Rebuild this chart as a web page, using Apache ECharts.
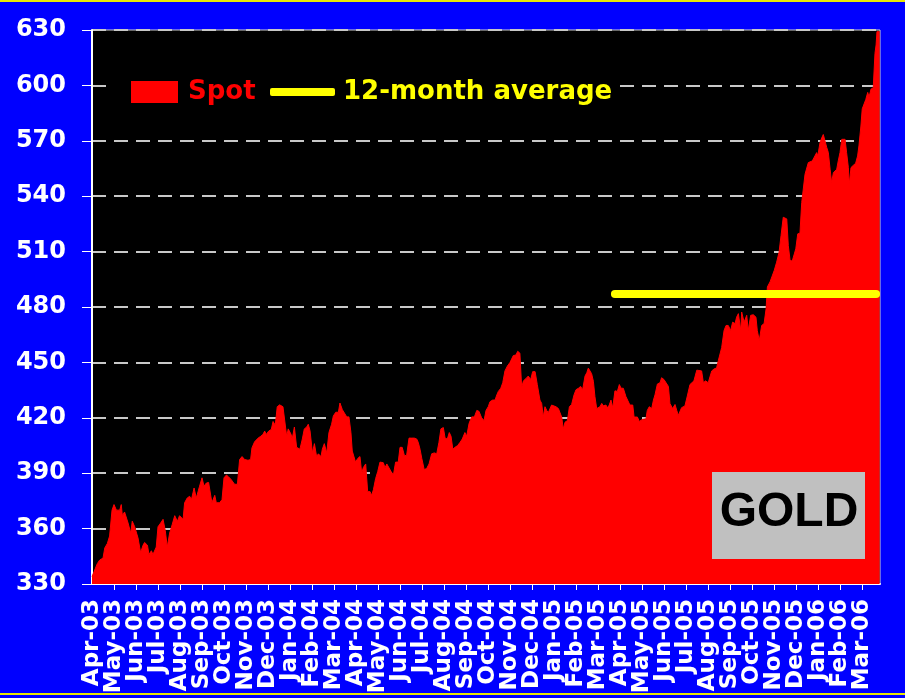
<!DOCTYPE html>
<html>
<head>
<meta charset="utf-8">
<script src="https://cdn.jsdelivr.net/npm/echarts@6/dist/echarts.min.js"></script>
<style>
  html, body { margin: 0; padding: 0; background: #0000ff; }
  #chart { width: 905px; height: 698px; }
</style>
</head>
<body>
<div id="chart"></div>
<script>
// Month tick labels (one tick per month, starting at Apr-03)
const months = ['Apr-03','May-03','Jun-03','Jul-03','Aug-03','Sep-03','Oct-03','Nov-03','Dec-03',
  'Jan-04','Feb-04','Mar-04','Apr-04','May-04','Jun-04','Jul-04','Aug-04','Sep-04','Oct-04','Nov-04','Dec-04',
  'Jan-05','Feb-05','Mar-05','Apr-05','May-05','Jun-05','Jul-05','Aug-05','Sep-05','Oct-05','Nov-05','Dec-05',
  'Jan-06','Feb-06','Mar-06'];

// Position of each spot observation, in months since 1 Apr 2003
const spotT = [0,0.05,0.24,0.35,0.5,0.58,0.7,0.8,0.91,1.0,1.11,1.26,1.33,1.38,1.48,1.64,1.76,1.83,1.94,2.09,
  2.21,2.32,2.39,2.52,2.59,2.7,2.77,2.92,3.0,3.12,3.23,3.33,3.42,3.53,3.64,3.76,3.88,3.98,4.14,4.21,
  4.33,4.44,4.52,4.64,4.74,4.89,5.0,5.09,5.2,5.3,5.39,5.45,5.58,5.65,5.8,5.91,6.0,6.11,6.21,6.33,
  6.48,6.61,6.71,6.82,6.94,7.09,7.21,7.27,7.39,7.55,7.67,7.77,7.85,7.92,8.03,8.15,8.23,8.33,8.42,8.53,
  8.68,8.77,8.85,8.92,9.05,9.1,9.2,9.3,9.45,9.56,9.65,9.76,9.83,9.91,10.02,10.11,10.21,10.29,10.41,10.47,
  10.56,10.67,10.77,10.89,10.97,11.08,11.2,11.27,11.38,11.47,11.58,11.68,11.77,11.83,11.92,11.98,12.08,12.18,12.26,12.33,
  12.44,12.53,12.64,12.71,12.79,12.89,12.99,13.09,13.17,13.24,13.32,13.4,13.47,13.59,13.7,13.8,13.92,14.0,14.1,14.2,
  14.3,14.41,14.53,14.65,14.76,14.83,14.91,14.99,15.1,15.21,15.32,15.44,15.56,15.67,15.77,15.86,15.97,16.05,16.15,16.24,
  16.32,16.4,16.5,16.62,16.73,16.83,16.95,17.03,17.14,17.26,17.38,17.49,17.59,17.71,17.82,17.91,18.01,18.09,18.21,18.32,
  18.4,18.47,18.58,18.67,18.77,18.88,19.0,19.08,19.15,19.27,19.35,19.45,19.53,19.61,19.73,19.83,19.94,20.03,20.14,20.24,
  20.36,20.44,20.51,20.59,20.67,20.74,20.82,20.89,20.97,21.09,21.2,21.27,21.35,21.42,21.5,21.61,21.7,21.8,21.91,22.0,
  22.11,22.21,22.3,22.41,22.49,22.56,22.64,22.71,22.79,22.86,22.94,23.01,23.09,23.17,23.24,23.36,23.44,23.51,23.59,23.67,
  23.77,23.88,23.97,24.05,24.15,24.27,24.33,24.45,24.58,24.64,24.73,24.79,24.88,24.99,25.06,25.18,25.24,25.33,25.44,25.52,
  25.59,25.7,25.82,25.89,26.0,26.09,26.2,26.27,26.39,26.5,26.58,26.65,26.73,26.8,26.95,27.06,27.18,27.26,27.36,27.49,
  27.56,27.71,27.79,27.89,28.01,28.09,28.17,28.27,28.39,28.47,28.62,28.73,28.82,28.92,29.03,29.12,29.23,29.3,29.38,29.49,
  29.53,29.64,29.76,29.83,29.94,30.06,30.18,30.24,30.33,30.44,30.55,30.64,30.7,30.82,30.89,31.01,31.12,31.23,31.32,31.42,
  31.5,31.58,31.65,31.73,31.83,31.92,31.99,32.08,32.18,32.26,32.33,32.41,32.49,32.56,32.64,32.74,32.83,32.94,32.99,33.09,
  33.17,33.24,33.32,33.4,33.47,33.55,33.62,33.7,33.77,33.85,33.92,34.0,34.08,34.15,34.23,34.3,34.38,34.42,34.5,34.61,
  34.71,34.8,34.86,34.95,35.01,35.1,35.17,35.26,35.32,35.41,35.51,35.59,35.64,35.68,35.8];

// Gold spot price (US$/oz)
const spot = [334,334,341,343,344,349.5,352,356,370,373,370,370,373,367,369,363,357.6,364,361,355,
  347,351,352.5,351,346,348,346,350,361,363,365,359,350,357.6,362,367,364,367,365,374,
  376.6,377.5,375.7,382,376.6,383,387.5,383,384.7,385,384,374,378,374,374,375.7,387.5,389,388,386.5,
  384,384,397.4,399,397.4,397,397.4,403.7,407,409,410,411,412.8,411,412.8,413.7,418,416,426,427,
  426,427,410,414,411,408.5,415,404,403,408.5,414,415,416.5,413,401,406,399,400.5,399,403,
  406,401,412,416.5,421,423,423,428,424.4,423.5,420.5,420.5,412,402,401,396,398,399,390,393,
  395,380,380,378,381,387,391,396,395,395.7,393,395,394,391,389,396,396,404,404,399.6,
  399.6,409,409,409,408.5,406.7,403,398,392,392.5,395,400.5,401,400.5,406.7,414,414.7,409,408.5,412,
  410,403,404,405,406.7,408.5,412,410,417,420.5,420.5,424,423.5,420,418.5,424,426,428.7,429.6,429.6,
  432.4,434.3,436,439,445.4,448,450,450,453.7,454,456,455,436.5,440,441.3,442.6,440.7,445,445,438,
  429.6,427.8,420.4,426,424,422.8,423,426.9,426.5,426,425,425,420.4,414,417.6,418.5,426,427.2,432.4,435.2,
  436,437,435.2,442.6,444.4,446.9,446.9,443.9,439.8,431.5,425,425.4,426,427.8,426.5,426.9,425.4,426.9,429.6,425.4,
  434.6,434.3,438,436,436,431.5,430.6,426.9,426.9,420.4,421.3,420.4,418,419,419.4,419.4,424,426,425,429.6,
  432.4,438.3,439,441.7,440.7,439.8,437,427.8,425,427.2,424,421.3,421.8,425.5,426.4,431.8,438,438,440,445.8,
  445.8,445.4,439,440,439,438,445.4,446.4,447,451,458,467.3,470,470,467.3,471.8,471,474.5,476.4,467.3,
  477.3,471.8,475.5,467.3,475.5,475.8,474.5,467.3,461.8,470,471,479,490.9,493.6,494.4,499.8,504.3,509.7,518.7,528.6,
  529.5,527.7,513.3,505.2,504.9,504.9,511.5,519.6,520,536.6,537.5,551.9,552.8,558.2,559.1,559.1,560,563.6,561.8,569,
  571.6,573.4,572.5,566.3,563.6,554.6,547.4,552.8,553.7,554.6,559.1,563.6,570.8,571.6,570.8,563.6,555.5,546.5,555.5,556.8,
  557.8,561.8,567.2,578,587.3,588.3,592.3,596.2,593.7,598,598.6,617.4,621.9,629.1,629.1];

// 12-month average: start / end position (months) and level
const avgT = [23.77, 35.64];
const avgValue = [487, 487];

const chart = echarts.init(document.getElementById('chart'), null, { renderer: 'canvas' });

const lblFont = 'DejaVu Sans';
const xMax = 35.818;

function monthLabel(v) {
  const i = Math.round(v);
  return (Math.abs(v - i) < 1e-6 && i >= 0 && i < months.length) ? months[i] : '';
}

const xLabelStyle = {
  rotate: 90, margin: 15, color: '#ffffff', fontSize: 23, fontWeight: 'bold', fontFamily: lblFont
};

chart.setOption({
  animation: false,
  backgroundColor: '#0000ff',
  grid: {
    left: 92, right: 25, top: 30, bottom: 114,
    show: true, backgroundColor: '#000000', borderColor: '#d0d0d0', borderWidth: 1
  },
  legend: [
    {
      left: 126, top: 74, z: 6,
      data: [{ name: 'Spot', icon: 'rect' }],
      itemWidth: 47, itemHeight: 22,
      textStyle: { color: '#ff0000', fontSize: 26, fontWeight: 'bold', fontFamily: lblFont, padding: [0, 0, 0, 5] }
    },
    {
      left: 265, top: 74, z: 6,
      data: [{ name: '12-month average', icon: 'roundRect' }],
      itemWidth: 65, itemHeight: 8,
      textStyle: { color: '#ffff00', fontSize: 26, fontWeight: 'bold', fontFamily: lblFont, padding: [0, 0, 0, 3] }
    }
  ],
  xAxis: [
    {
      type: 'value', position: 'bottom',
      min: 0, max: xMax, interval: 1,
      axisLine: { show: true, lineStyle: { color: '#ffffff', width: 2 } },
      axisTick: { show: true, length: 6, lineStyle: { color: '#ffffff', width: 1 } },
      splitLine: { show: false },
      axisLabel: Object.assign({}, xLabelStyle, {
        showMinLabel: false, showMaxLabel: false, hideOverlap: false,
        formatter: monthLabel
      })
    },
    {
      // companion axis on the same baseline that carries only the first month label
      type: 'value', position: 'bottom', offset: 0,
      min: 0, max: xMax, interval: 1,
      axisLine: { show: false }, axisTick: { show: false }, splitLine: { show: false },
      axisLabel: Object.assign({}, xLabelStyle, {
        showMinLabel: true, showMaxLabel: false,
        formatter: function (v) { return Math.abs(v) < 1e-6 ? months[0] : ''; }
      })
    }
  ],
  yAxis: {
    type: 'value',
    min: 330, max: 630, interval: 30,
    axisLine: { show: true, lineStyle: { color: '#ffffff', width: 2 } },
    axisTick: { show: true, length: 10, lineStyle: { color: '#ffffff', width: 1 } },
    axisLabel: { margin: 26, color: '#ffffff', fontSize: 24, fontWeight: 'bold', fontFamily: lblFont,
                 showMinLabel: true, showMaxLabel: true },
    splitLine: { show: true, lineStyle: { color: '#c8c8c8', width: 2, type: [14, 8] } }
  },
  series: [
    {
      name: 'Spot',
      type: 'line',
      xAxisIndex: 0,
      symbol: 'none',
      data: spotT.map((t, i) => [t, spot[i]]),
      lineStyle: { color: '#ff0000', width: 1 },
      itemStyle: { color: '#ff0000' },
      areaStyle: { color: '#ff0000', opacity: 1, origin: 'start' },
      z: 2
    },
    {
      name: '12-month average',
      type: 'line',
      xAxisIndex: 0,
      symbol: 'none',
      clip: false,
      data: avgT.map((t, i) => [t, avgValue[i]]),
      lineStyle: { color: '#ffff00', width: 8, cap: 'round' },
      itemStyle: { color: '#ffff00' },
      z: 3
    }
  ],
  graphic: [
    { type: 'rect', left: 0, top: 0, shape: { width: 905, height: 2 }, style: { fill: '#e8e800' }, silent: true },
    { type: 'rect', left: 0, top: 693, shape: { width: 905, height: 2 }, style: { fill: '#e8e800' }, silent: true },
    { type: 'rect', left: 112, top: 74, shape: { width: 504, height: 32 }, style: { fill: '#000000' }, z: 1, silent: true },
    { type: 'rect', left: 712, top: 472, shape: { width: 153, height: 87 }, style: { fill: '#c0c0c0' }, z: 10 },
    { type: 'text', x: 789, y: 513, z: 11,
      style: { text: 'GOLD', fill: '#000000', fontSize: 48, fontWeight: 'bold', fontFamily: 'Liberation Sans',
               align: 'center', verticalAlign: 'middle' } }
  ]
});
</script>
</body>
</html>
